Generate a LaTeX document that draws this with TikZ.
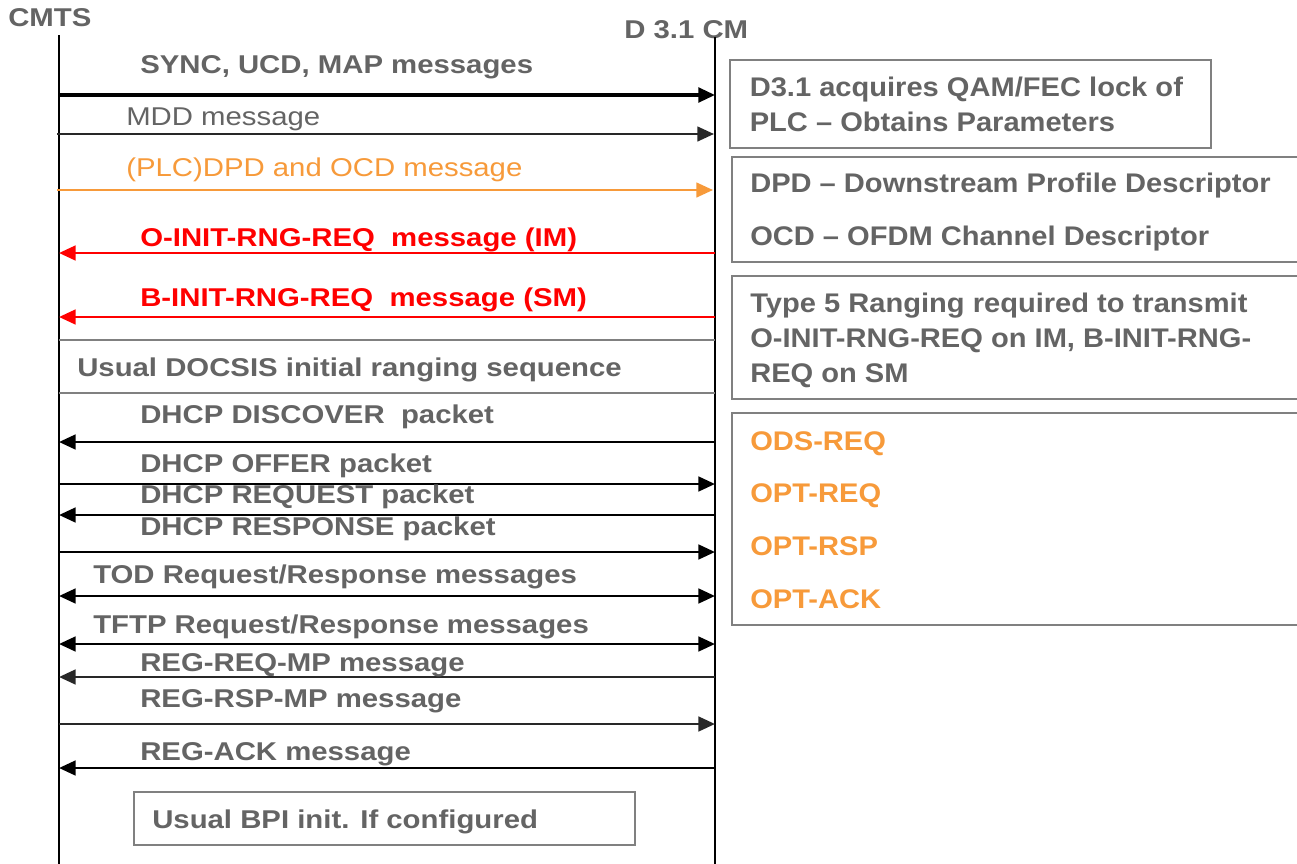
\documentclass[tikz,border=0pt]{standalone}
\usepackage{fontspec}
\setmainfont{Liberation Sans}
\newfontfamily\msgfont[FakeStretch=1.14]{Liberation Sans}
\newfontfamily\notefont[FakeStretch=1.08]{Liberation Sans}
\usetikzlibrary{arrows.meta}
\definecolor{txtgray}{RGB}{100,100,100}
\definecolor{boxgray}{RGB}{128,128,128}
\definecolor{plcorange}{RGB}{247,154,58}
\definecolor{rngred}{RGB}{255,0,0}
\definecolor{darkline}{RGB}{40,40,40}
\tikzset{
  lifeline/.style={line width=1.5pt, black},
  msg/.style={line width=2.1pt, -{Triangle[length=12.5pt,width=11pt]}},
  msgboth/.style={line width=2.1pt, {Triangle[length=12.5pt,width=11pt]}-{Triangle[length=12.5pt,width=11pt]}},
  frame/.style={draw=boxgray, line width=1.5pt},
  lbl/.style={anchor=base west, inner sep=0pt, text=txtgray,
    font=\msgfont\bfseries\fontsize{19.3}{23}\selectfont},
  lblreg/.style={lbl, font=\msgfont\fontsize{19.3}{23}\selectfont},
  note/.style={anchor=base west, inner sep=0pt, text=txtgray,
    font=\notefont\bfseries\fontsize{20.2}{24}\selectfont},
}
\begin{document}
\begin{tikzpicture}[x=0.75pt,y=-0.75pt]
\useasboundingbox (0,0) rectangle (1297,864);
\clip (0,0) rectangle (1297,864);
\fill[white] (0,0) rectangle (1297,864);

% entities
\node[lbl] (cmts) at (8,26) {CMTS};
\node[lbl] (cm) at (624,38) {D 3.1 CM};

% lifelines
\coordinate (cmtsTop) at (59,35);
\coordinate (cmtsBot) at (59,864);
\coordinate (cmTop) at (715,37);
\coordinate (cmBot) at (715,864);
\draw[lifeline] (cmtsTop) -- (cmtsBot);
\draw[lifeline] (cmTop) -- (cmBot);

% downstream discovery
\coordinate (a1) at (59,95);  \coordinate (b1) at (715,95);
\draw[msg, line width=2.5pt] (a1) -- (b1);
\node[lbl] (t1) at (140,73) {SYNC, UCD, MAP messages};

\coordinate (a2) at (57,134); \coordinate (b2) at (714,134);
\draw[msg, line width=1.8pt, darkline] (a2) -- (b2);
\node[lblreg] (t2) at (126,125) {MDD message};

\coordinate (a3) at (57,190); \coordinate (b3) at (713,190);
\draw[msg, line width=1.8pt, plcorange] (a3) -- (b3);
\node[lblreg, text=plcorange] (t3) at (126,176) {(PLC)DPD and OCD message};

% initial ranging
\coordinate (a4) at (715,253); \coordinate (b4) at (59,253);
\draw[msg, rngred] (a4) -- (b4);
\node[lbl, text=rngred] (t4) at (140,246.5) {O-INIT-RNG-REQ\ \ message (IM)};

\coordinate (a5) at (715,317); \coordinate (b5) at (59,317);
\draw[msg, rngred] (a5) -- (b5);
\node[lbl, text=rngred] (t5) at (140,306) {B-INIT-RNG-REQ\ \ message (SM)};

\coordinate (r1) at (59,340);  \coordinate (r2) at (715,340);
\coordinate (r3) at (59,393);  \coordinate (r4) at (715,393);
\draw[frame] (r1) -- (r2);
\draw[frame] (r3) -- (r4);
\node[lbl] (t6) at (77,376) {Usual DOCSIS initial ranging sequence};

% DHCP
\coordinate (a7) at (715,442); \coordinate (b7) at (59,442);
\draw[msg] (a7) -- (b7);
\node[lbl] (t7) at (140,423) {DHCP DISCOVER\ \ packet};

\coordinate (a8) at (59,484); \coordinate (b8) at (715,484);
\draw[msg] (a8) -- (b8);
\node[lbl] (t8) at (140,472) {DHCP OFFER packet};

\coordinate (a9) at (715,515); \coordinate (b9) at (59,515);
\draw[msg] (a9) -- (b9);
\node[lbl] (t9) at (140,503) {DHCP REQUEST packet};

\coordinate (a10) at (59,552); \coordinate (b10) at (715,552);
\draw[msg] (a10) -- (b10);
\node[lbl] (t10) at (140,535) {DHCP RESPONSE packet};

% TOD / TFTP
\coordinate (a11) at (59,596); \coordinate (b11) at (715,596);
\draw[msgboth] (a11) -- (b11);
\node[lbl] (t11) at (93,583) {TOD Request/Response messages};

\coordinate (a12) at (59,644); \coordinate (b12) at (715,644);
\draw[msgboth] (a12) -- (b12);
\node[lbl] (t12) at (93,633) {TFTP Request/Response messages};

% registration
\coordinate (a13) at (715,677); \coordinate (b13) at (59,677);
\draw[msg, darkline] (a13) -- (b13);
\node[lbl] (t13) at (140,671) {REG-REQ-MP message};

\coordinate (a14) at (59,724); \coordinate (b14) at (715,724);
\draw[msg, darkline] (a14) -- (b14);
\node[lbl] (t14) at (140,707) {REG-RSP-MP message};

\coordinate (a15) at (715,768); \coordinate (b15) at (59,768);
\draw[msg] (a15) -- (b15);
\node[lbl] (t15) at (140,760) {REG-ACK message};

\draw[frame] (134,792) rectangle (635,845);
\node[lbl] (t16) at (152,828) {Usual BPI init. If configured};

% side notes
\draw[frame] (730,60) rectangle (1211,148);
\node[note] (n1a) at (749.5,96.5) {D3.1 acquires QAM/FEC lock of};
\node[note] (n1b) at (749.5,131.5) {PLC – Obtains Parameters};

\draw[frame] (732,157) rectangle (1310,262);
\node[note] (n2a) at (750,192) {DPD – Downstream Profile Descriptor};
\node[note] (n2b) at (750,245) {OCD – OFDM Channel Descriptor};

\draw[frame] (732,276) rectangle (1310,399);
\node[note] (n3a) at (750,312) {Type 5 Ranging required to transmit};
\node[note] (n3b) at (750,347) {O-INIT-RNG-REQ on IM, B-INIT-RNG-};
\node[note] (n3c) at (750,382) {REQ on SM};

\draw[frame] (732,413) rectangle (1310,625);
\node[note, text=plcorange] (n4a) at (750,450) {ODS-REQ};
\node[note, text=plcorange] (n4b) at (750,502) {OPT-REQ};
\node[note, text=plcorange] (n4c) at (750,555) {OPT-RSP};
\node[note, text=plcorange] (n4d) at (750,608) {OPT-ACK};
\end{tikzpicture}
\end{document}
